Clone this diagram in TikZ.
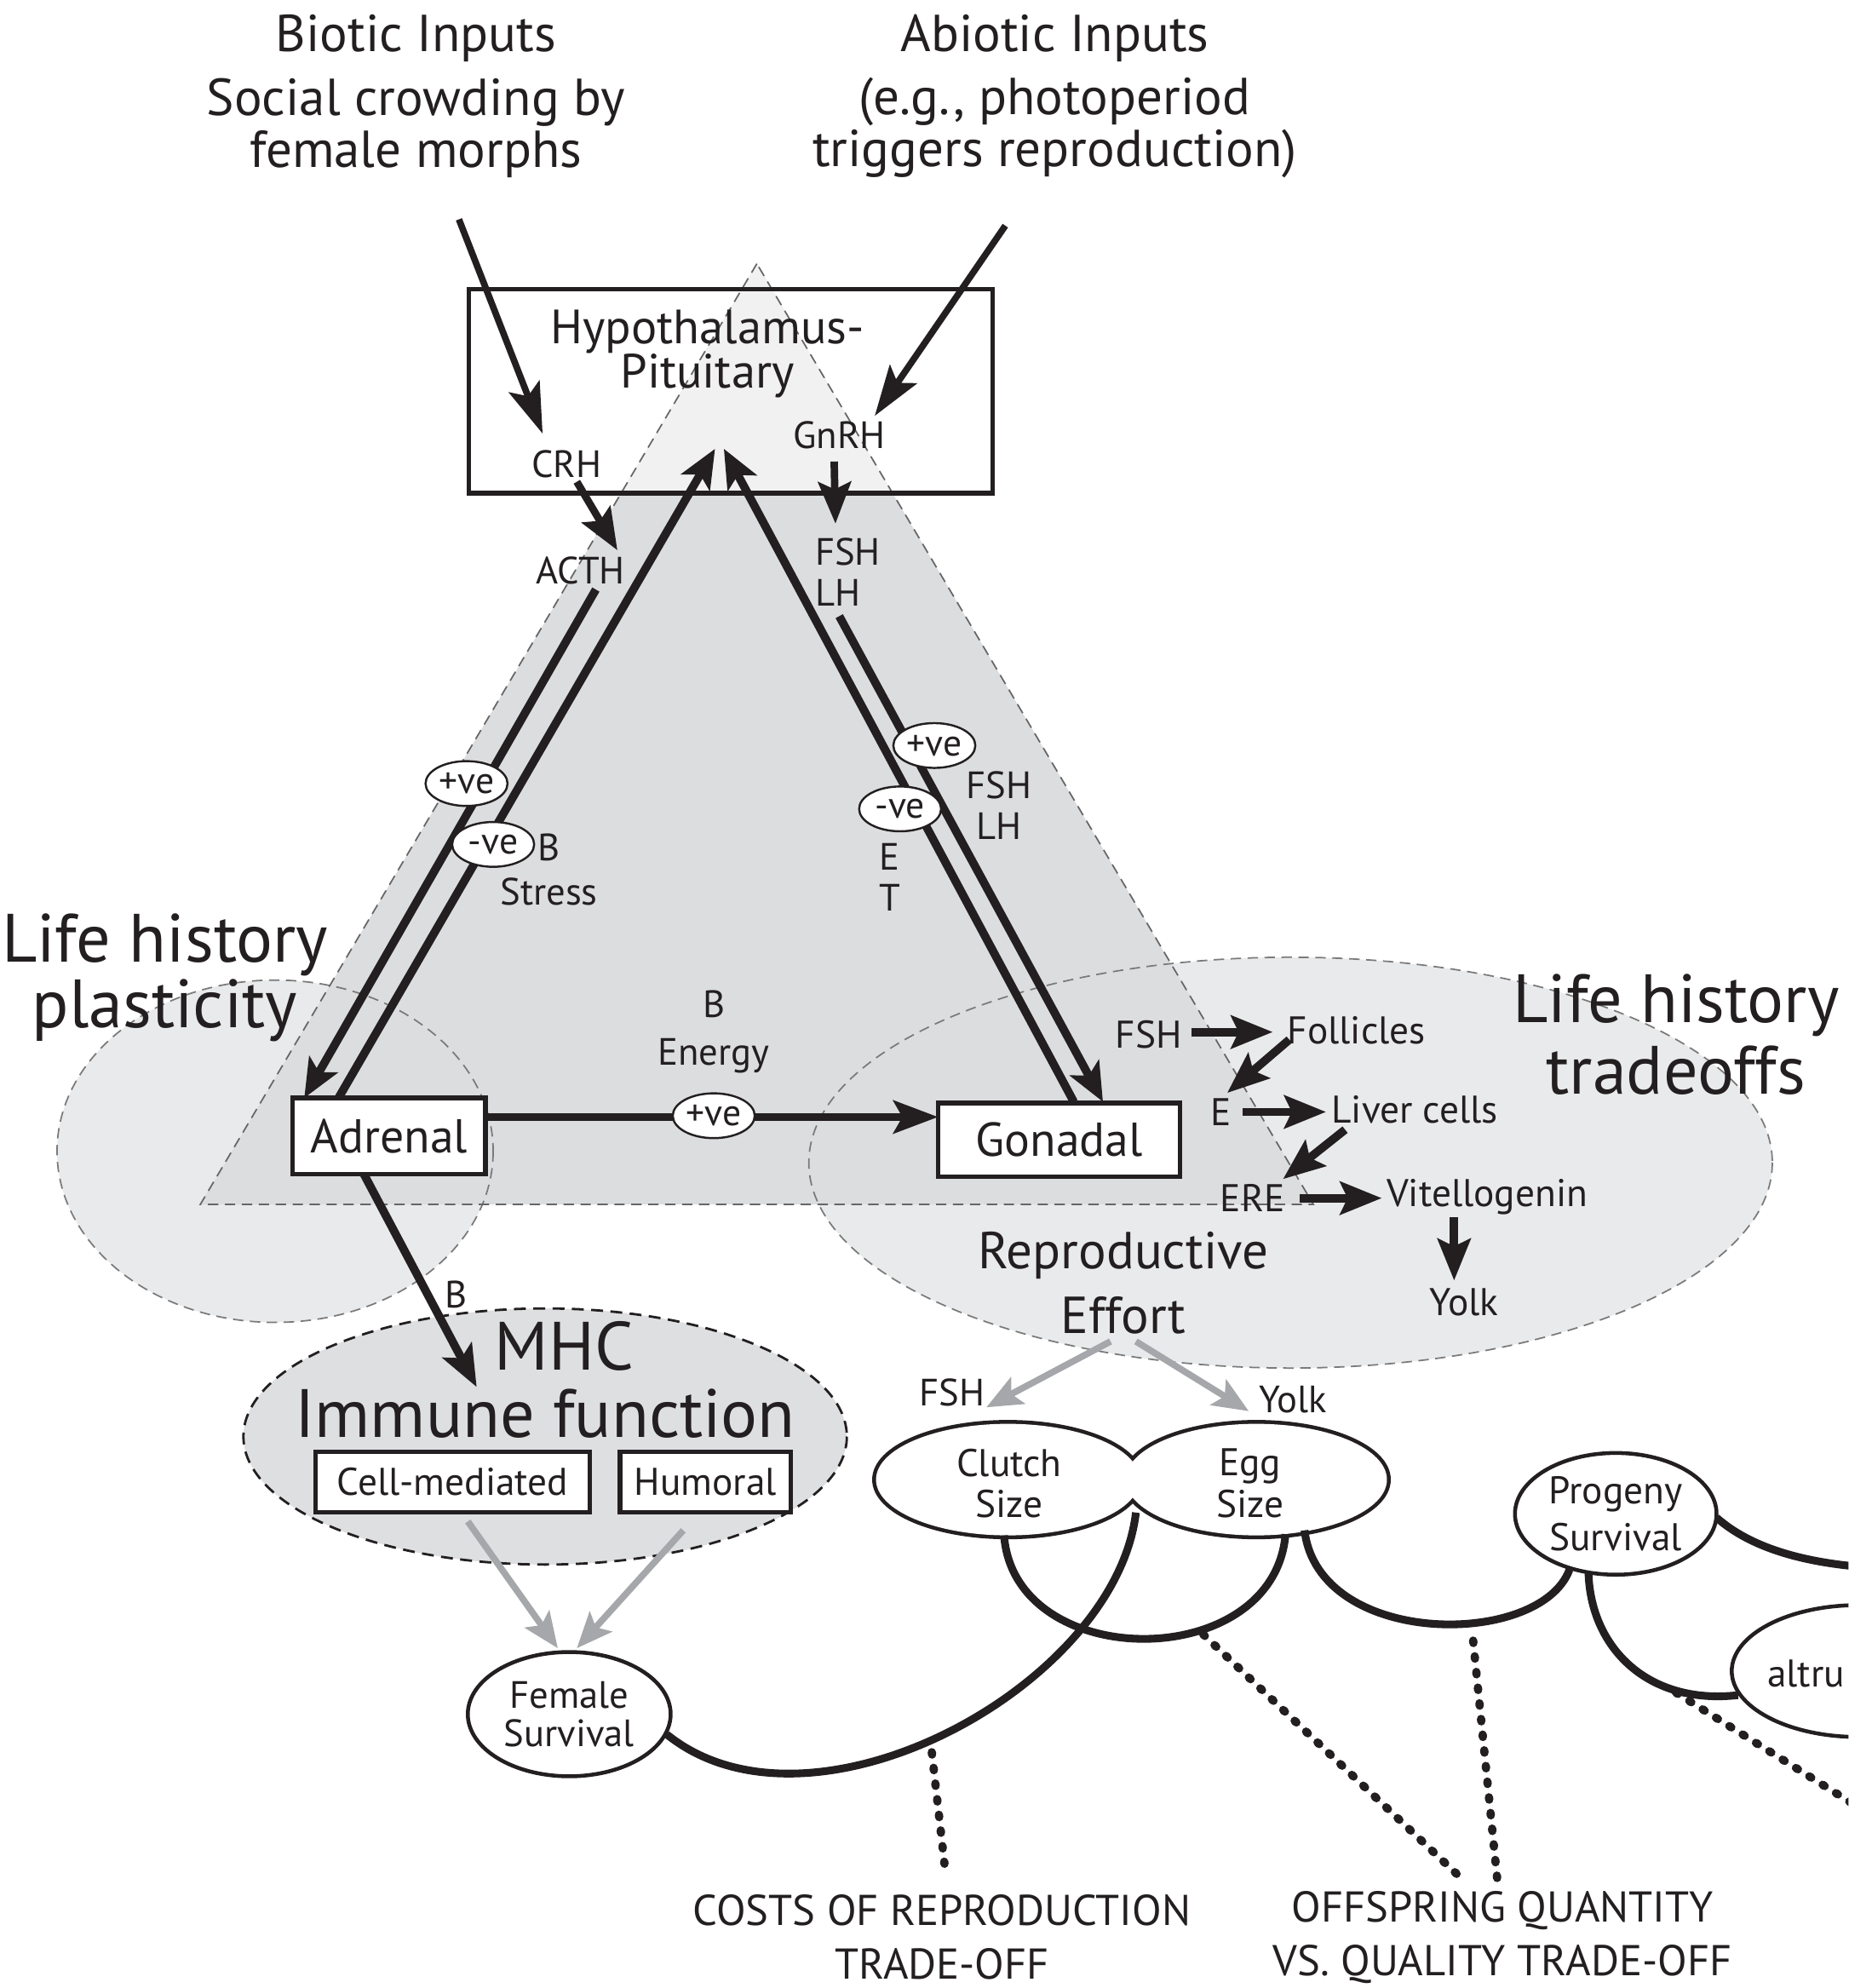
\documentclass[tikz,border=0pt]{standalone}
\usepackage{fontspec}
\setmainfont{PT Sans}
\usetikzlibrary{arrows.meta,shapes.geometric}
\definecolor{tridark}{HTML}{DCDDDF}
\definecolor{trilight}{HTML}{F1F1F2}
\definecolor{ellfill}{HTML}{E9EAEB}
\definecolor{mhcfill}{HTML}{DEDFE1}
\definecolor{arrgray}{HTML}{A5A7AA}
\definecolor{dashgray}{HTML}{7A7A7A}
\definecolor{ink}{HTML}{231F20}
\newcommand\fsz[2]{\fontsize{#1pt}{#2pt}\selectfont}
\begin{document}
\begin{tikzpicture}[x=0.015cm,y=-0.015cm,
  every node/.style={inner sep=0pt,outer sep=0pt,text=ink},
  lbl/.style={font=\fsz{12.8}{13.7},align=center},
  casc/.style={font=\fsz{13}{14}},
  boxnode/.style={draw=ink,line width=1.5pt,fill=white,rectangle},
  pmnode/.style={ellipse,draw=ink,line width=0.7pt,fill=white,minimum width=0.97cm,minimum height=0.53cm,font=\fsz{12.5}{13}},
  thickarrow/.style={draw=ink,line width=2.8pt,-{Stealth[length=13pt,width=11pt,inset=3pt]}},
  inputarrow/.style={draw=ink,line width=2.2pt,-{Stealth[length=17pt,width=11pt,inset=3.5pt]}},
  cascade/.style={draw=ink,line width=2.8pt,-{Stealth[length=14pt,width=11pt,inset=2.5pt]}},
  grayarrow/.style={draw=arrgray,line width=2.2pt,-{Stealth[length=12pt,width=10pt,inset=2.5pt]}},
  bigdash/.style={draw=dashgray,line width=0.5pt,dash pattern=on 3.5pt off 2.2pt},
  curve/.style={draw=ink,line width=2.6pt},
  dotline/.style={draw=ink,line width=2.8pt,line cap=round,dash pattern=on 0.8pt off 4.5pt},
  oval/.style={ellipse,draw=ink,line width=1.3pt,fill=white},
]
\clip (0,0) rectangle (1458,1568);
\useasboundingbox (0,0) rectangle (1458,1568);

% ---- background regions
\fill[ellfill] (217,908) ellipse [x radius=172, y radius=135];
\fill[ellfill] (1018,917) ellipse [x radius=380, y radius=162];
\coordinate (tA) at (597,208);
\coordinate (tL) at (158,950);
\coordinate (tR) at (1036,950);
\fill[tridark] (tA) -- (tL) -- (tR) -- cycle;
\begin{scope}
  \clip (tA) -- (tL) -- (tR) -- cycle;
  \fill[trilight] (0,200) rectangle (1458,389);
\end{scope}
\draw[bigdash] (217,908) ellipse [x radius=172, y radius=135];
\draw[bigdash] (1018,917) ellipse [x radius=380, y radius=162];
\draw[bigdash,draw=black!60] (tA) -- (tL) -- (tR) -- cycle;
\draw[fill=mhcfill,draw=ink,line width=0.8pt,dash pattern=on 4pt off 2.5pt] (430,1133) ellipse [x radius=238, y radius=101];

% ---- titles
\node[font=\fsz{17.5}{17.5}] (biotic) at (328,30) {Biotic Inputs};
\node[font=\fsz{17.5}{17.5},align=center] (social) at (328,101) {Social crowding by\\female morphs};
\node[font=\fsz{17.5}{17.5}] (abiotic) at (832,30) {Abiotic Inputs};
\node[font=\fsz{17.5}{17.5},align=center] (eg) at (832,101) {(e.g., photoperiod\\triggers reproduction)};

% ---- Hypothalamus-Pituitary
\node[draw=ink,line width=1.5pt,minimum width=6.195cm,minimum height=2.415cm] (hp) at (576.5,308.5) {};
\node[font=\fsz{16.2}{15},align=center] (hptext) at (558,279) {Hypothalamus-\\Pituitary};
\node[lbl] (crh) at (447,366) {CRH};
\node[lbl] (gnrh) at (662,343) {GnRH};
\node[lbl] (acth) at (458,450) {ACTH};
\node[lbl,align=left,anchor=west] (fshlh1) at (643,451) {FSH\\LH};

\coordinate (bioS) at (362,173); \coordinate (bioE) at (428,342);
\coordinate (abiS) at (793,178); \coordinate (abiE) at (690,328);
\draw[inputarrow] (bioS) -- (bioE);
\draw[inputarrow] (abiS) -- (abiE);

\coordinate (crhS) at (455,380); \coordinate (acthE) at (487,434);
\draw[cascade,line width=2.5pt] (crhS) -- (acthE);
\coordinate (gnS) at (658,364); \coordinate (gnE) at (659,413);
\draw[cascade,line width=2.5pt] (gnS) -- (gnE);

% ---- main boxes
\node[boxnode,minimum width=2.28cm,minimum height=0.9cm,font=\fsz{16}{16}] (adrenal) at (307,896) {Adrenal};
\node[boxnode,minimum width=2.865cm,minimum height=0.87cm,font=\fsz{16}{16}] (gonadal) at (835.5,899) {Gonadal};

% ---- triangle arrows
\coordinate (l1S) at (470,465); \coordinate (l1E) at (240,866);
\coordinate (l2S) at (267,866); \coordinate (l2E) at (564,354);
\coordinate (r1S) at (847,869); \coordinate (r1E) at (571,354);
\coordinate (r2S) at (662,486); \coordinate (r2E) at (870,869);
\draw[thickarrow] (l1S) -- (l1E);
\draw[thickarrow] (l2S) -- (l2E);
\draw[thickarrow] (r1S) -- (r1E);
\draw[thickarrow] (r2S) -- (r2E);
\coordinate (agS) at (383,881); \coordinate (agE) at (740,881);
\draw[thickarrow,-{Stealth[length=15pt,width=11pt,inset=3pt]}] (agS) -- (agE);

\node[pmnode] (pl1) at (368,618) {+ve};
\node[pmnode] (ml1) at (389,666) {-ve};
\node[pmnode] (pr1) at (737,588) {+ve};
\node[pmnode] (mr1) at (710,638) {-ve};
\node[pmnode] (pag) at (563,880) {+ve};

\node[lbl,font=\fsz{12.8}{15}] (bstress) at (433,686) {B\\Stress};
\node[lbl] (fshlh2) at (788,635) {FSH\\LH};
\node[lbl] (et) at (702,692) {E\\T};
\node[lbl,font=\fsz{12.8}{16.2}] (benergy) at (563,814) {B\\Energy};

% ---- life history labels
\node[font=\fsz{23}{22.2},align=center] (plast) at (130,771) {Life history\\plasticity};
\node[font=\fsz{23}{24.3},align=center] (trade) at (1322,816) {Life history\\tradeoffs};

% ---- cascade
\node[casc] (cfsh) at (906,816) {FSH};
\node[casc] (foll) at (1070,813) {Follicles};
\node[casc] (ce) at (963,877) {E};
\node[casc] (liver) at (1116,875) {Liver cells};
\node[casc] (ere) at (988,945) {ERE};
\node[casc] (vitel) at (1173,944) {Vitellogenin};
\node[casc] (yolk1) at (1155,1027) {Yolk};
\coordinate (c1S) at (940,814); \coordinate (c1E) at (1004,814);
\coordinate (c2S) at (1017,820); \coordinate (c2E) at (968,862);
\coordinate (c3S) at (980,877); \coordinate (c3E) at (1046,877);
\coordinate (c4S) at (1061,891); \coordinate (c4E) at (1012,930);
\coordinate (c5S) at (1025,945); \coordinate (c5E) at (1090,945);
\coordinate (c6S) at (1147,960); \coordinate (c6E) at (1147,1010);
\draw[cascade] (c1S) -- (c1E);
\draw[cascade] (c2S) -- (c2E);
\draw[cascade] (c3S) -- (c3E);
\draw[cascade] (c4S) -- (c4E);
\draw[cascade] (c5S) -- (c5E);
\draw[cascade] (c6S) -- (c6E);
\node[font=\fsz{17.5}{21.8},align=center] (reff) at (886,1012) {Reproductive\\Effort};

% ---- immune
\coordinate (amS) at (287,926); \coordinate (amE) at (376,1094);
\draw[thickarrow,-{Stealth[length=14pt,width=11pt,inset=3pt]}] (amS) -- (amE);
\node[lbl] (bimm) at (360,1021) {B};
\node[font=\fsz{23}{23}] (mhc) at (445,1062) {MHC};
\node[font=\fsz{23}{23}] (immune) at (430,1115) {Immune function};
\node[boxnode,minimum width=3.24cm,minimum height=0.72cm,font=\fsz{13}{13}] (cell) at (357,1169) {Cell-mediated};
\node[boxnode,minimum width=2.025cm,minimum height=0.72cm,font=\fsz{13}{13}] (humoral) at (556.5,1169) {Humoral};

% ---- bottom ovals
\node[oval,minimum width=2.4cm,minimum height=1.47cm,font=\fsz{12.8}{12.8},align=center] (female) at (449,1352) {Female\\Survival};
\draw[ink,line width=2.6pt] (795,1167) ellipse [x radius=104, y radius=44];
\draw[ink,line width=2.6pt] (991,1167) ellipse [x radius=103, y radius=44];
\fill[white] (795,1167) ellipse [x radius=104, y radius=44];
\fill[white] (991,1167) ellipse [x radius=103, y radius=44];
\node[font=\fsz{13}{14},align=center] (clutch) at (796,1170) {Clutch\\Size};
\node[font=\fsz{13}{14},align=center] (egg) at (986,1170) {Egg\\Size};
\node[oval,minimum width=2.385cm,minimum height=1.44cm,font=\fsz{13}{15.8},align=center] (progeny) at (1274.5,1194) {Progeny\\Survival};
\node[oval,minimum width=3cm,minimum height=1.56cm] (altru) at (1466,1318) {};
\node[font=\fsz{13}{14},anchor=west] (altrutext) at (1394,1320) {altru};

% ---- gray arrows
\coordinate (eff1) at (876,1058); \coordinate (clutchIn) at (778,1110);
\coordinate (eff2) at (896,1058); \coordinate (eggIn) at (985,1113);
\draw[grayarrow] (eff1) -- (clutchIn);
\draw[grayarrow] (eff2) -- (eggIn);
\node[lbl] (fshg) at (751,1098) {FSH};
\node[lbl] (yolkg) at (1020,1104) {Yolk};
\coordinate (cellOut) at (369,1200); \coordinate (femIn1) at (440,1300);
\coordinate (humOut) at (539,1207); \coordinate (femIn2) at (455,1300);
\draw[grayarrow] (cellOut) -- (femIn1);
\draw[grayarrow] (humOut) -- (femIn2);

% ---- trade-off curves
\coordinate (cvA) at (792,1211); \coordinate (cvB) at (1014,1210);
\draw[curve] (cvA) .. controls (800,1320) and (1005,1320) .. (cvB);
\coordinate (cvC) at (896,1193); \coordinate (cvD) at (526,1368);
\draw[curve] (cvC) .. controls (880,1330) and (640,1460) .. (cvD);
\coordinate (cvE) at (1029,1207); \coordinate (cvF) at (1238,1238);
\draw[curve] (cvE) .. controls (1040,1300) and (1215,1300) .. (cvF);
\coordinate (cvG) at (1354,1197); \coordinate (cvH) at (1470,1236);
\draw[curve] (cvG) .. controls (1380,1220) and (1420,1232) .. (cvH);
\coordinate (cvI) at (1253,1241); \coordinate (cvJ) at (1371,1337);
\draw[curve] (cvI) .. controls (1255,1300) and (1300,1345) .. (cvJ);

% ---- dotted leaders
\coordinate (d1S) at (735,1382); \coordinate (d1E) at (745,1470);
\coordinate (d2S) at (949,1289); \coordinate (d2E) at (1149,1478);
\coordinate (d3S) at (1162,1294); \coordinate (d3E) at (1181,1482);
\coordinate (d4S) at (1322,1335); \coordinate (d4E) at (1470,1428);
\draw[dotline] (d1S) -- (d1E);
\draw[dotline] (d2S) -- (d2E);
\draw[dotline] (d3S) -- (d3E);
\draw[dotline] (d4S) -- (d4E);

\node[font=\fsz{14.5}{17.9},align=center] (costs) at (743,1528) {COSTS OF REPRODUCTION\\TRADE-OFF};
\node[font=\fsz{14.5}{17.9},align=center] (offs) at (1185,1528) {OFFSPRING QUANTITY\\VS. QUALITY TRADE-OFF};
\end{tikzpicture}
\end{document}
